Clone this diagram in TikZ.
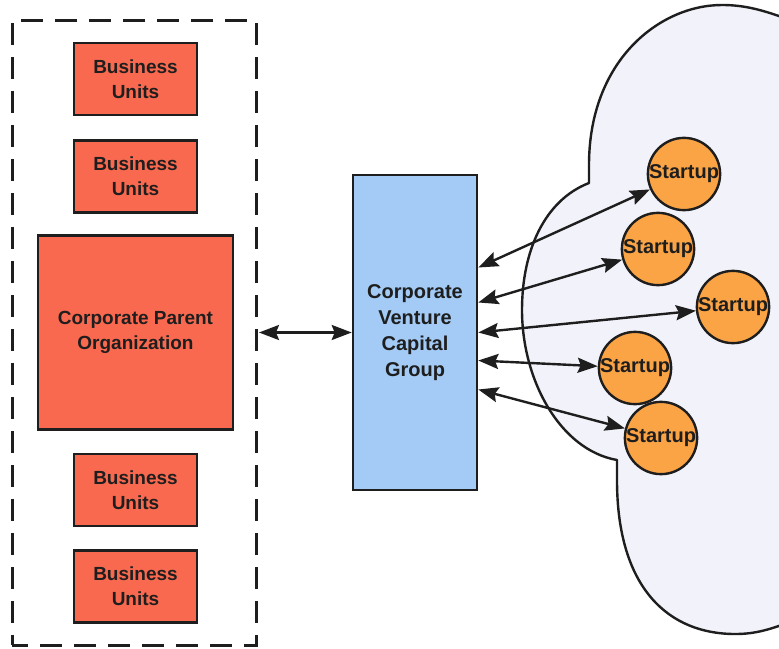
\documentclass[tikz,border=0pt]{standalone}
\usepackage{fontspec}
\setmainfont{Liberation Sans}
\usetikzlibrary{arrows.meta,calc}
\definecolor{unitred}{HTML}{F9694F}
\definecolor{cvcblue}{HTML}{A3CBF5}
\definecolor{startorange}{HTML}{FBA445}
\definecolor{cloudfill}{HTML}{F2F2FA}
\definecolor{ink}{HTML}{1E1E1E}

\begin{document}
\begin{tikzpicture}[x=1pt,y=-1pt,
  box/.style={draw=ink,line width=2.6pt,fill=unitred,inner sep=0pt,align=center,
    text=ink,font=\fontsize{19}{25}\selectfont\bfseries},
  unit/.style={box,minimum width=123pt,minimum height=72pt},
  startup/.style={circle,draw=ink,line width=2.4pt,fill=startorange,minimum size=72pt,
    inner sep=0pt,text=ink,font=\fontsize{20}{24}\selectfont\bfseries},
  tip/.tip={Stealth[length=20pt,width=15pt,inset=3pt]},
  link/.style={tip-tip,line width=2.4pt,draw=ink},
  group/.style={draw=ink,line width=3pt,dash pattern=on 22pt off 12pt,dash phase=6pt,
    minimum width=244pt,minimum height=625pt,inner sep=0pt}
]
\useasboundingbox (0,0) rectangle (779,648);

% the startup ecosystem cloud
\fill[cloudfill] (800,24) .. controls (765,10) and (745,5) .. (722,5)
  .. controls (660,5) and (589,60) .. (589,165) -- (589,183)
  .. controls (545,200) and (522,250) .. (522,310)
  .. controls (522,380) and (560,450) .. (617,460) -- (617,480)
  .. controls (617,590) and (670,634) .. (735,634)
  .. controls (755,634) and (770,630) .. (800,618) -- cycle;
\draw[ink,line width=2.4pt,line join=round] (800,24) .. controls (765,10) and (745,5) .. (722,5)
  .. controls (660,5) and (589,60) .. (589,165) -- (589,183)
  .. controls (545,200) and (522,250) .. (522,310)
  .. controls (522,380) and (560,450) .. (617,460) -- (617,480)
  .. controls (617,590) and (670,634) .. (735,634)
  .. controls (755,634) and (770,630) .. (800,618);

% corporate side
\node[group] (grp) at (134,332.5) {};
\node[unit] (bu1) at (135.5,79) {Business\\Units};
\node[unit] (bu2) at (135.5,176.5) {Business\\Units};
\node[box,minimum width=195pt,minimum height=194pt] (parent) at (135.5,332.5)
  {Corporate Parent\\Organization};
\node[unit] (bu3) at (135.5,490) {Business\\Units};
\node[unit] (bu4) at (135.5,586.5) {Business\\Units};

% venture capital group
\node[box,fill=cvcblue,minimum width=124pt,minimum height=315pt,
  font=\fontsize{20}{26}\selectfont\bfseries] (cvc) at (415,332.5)
  {Corporate\\Venture\\Capital\\Group};

% startups
\node[startup] (s1) at (684,174) {Startup};
\node[startup] (s2) at (658,249) {Startup};
\node[startup] (s3) at (733,307) {Startup};
\node[startup] (s4) at (635,368) {Startup};
\node[startup] (s5) at (661,438) {Startup};

% connectors (yshift is measured upwards on the page)
\draw[link,shorten <=1.5pt] (grp.east) -- (cvc.west);
\draw[link] ([yshift=65pt]cvc.east) -- (s1);
\draw[link] ([yshift=30pt]cvc.east) -- (s2);
\draw[link] (cvc.east) -- (s3);
\draw[link] ([yshift=-28pt]cvc.east) -- (s4);
\draw[link] ([yshift=-57pt]cvc.east) -- (s5);
\end{tikzpicture}
\end{document}
